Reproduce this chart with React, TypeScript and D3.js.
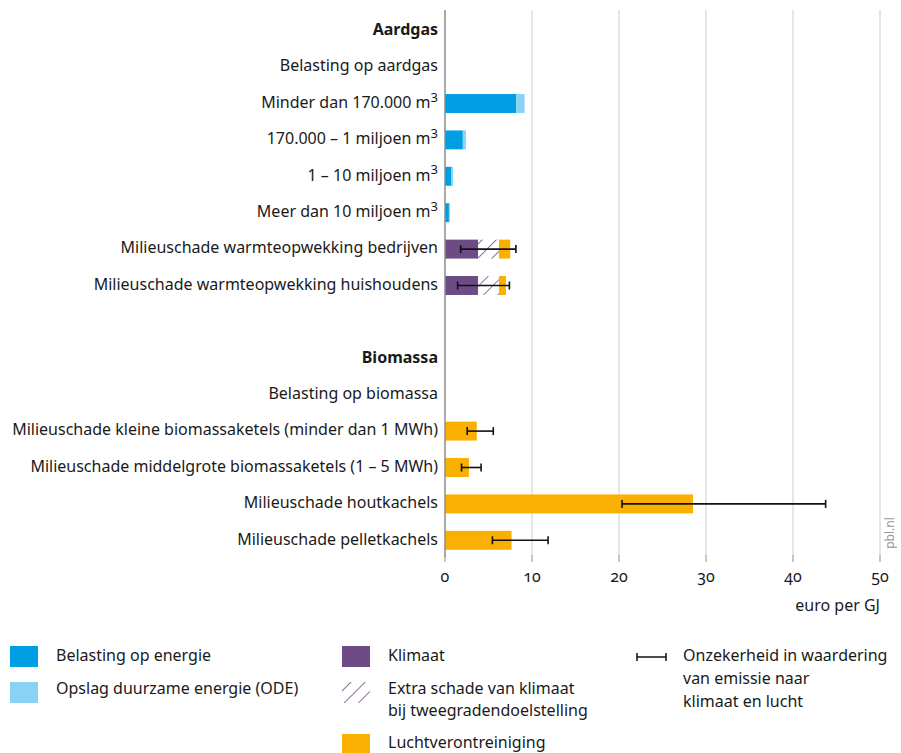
import React from 'react';
import * as d3 from 'd3';

const rows = [
  'Aardgas',
  'Belasting op aardgas',
  'Minder dan 170.000 m|3',
  '170.000 – 1 miljoen m|3',
  '1 – 10 miljoen m|3',
  'Meer dan 10 miljoen m|3',
  'Milieuschade warmteopwekking bedrijven',
  'Milieuschade warmteopwekking huishoudens',
  '',
  'Biomassa',
  'Belasting op biomassa',
  'Milieuschade kleine biomassaketels (minder dan 1 MWh)',
  'Milieuschade middelgrote biomassaketels (1 – 5 MWh)',
  'Milieuschade houtkachels',
  'Milieuschade pelletkachels',
];
const headers = ['Aardgas', 'Biomassa'];

const belasting = [0, 0, 8.2, 2.05, 0.7, 0.45, 0, 0, 0, 0, 0, 0, 0, 0, 0];
const ode = [0, 0, 0.95, 0.35, 0.22, 0.12, 0, 0, 0, 0, 0, 0, 0, 0, 0];
const klimaat = [0, 0, 0, 0, 0, 0, 3.8, 3.8, 0, 0, 0, 0, 0, 0, 0];
const extraKlimaat = [0, 0, 0, 0, 0, 0, 2.4, 2.4, 0, 0, 0, 0, 0, 0, 0];
const lucht = [0, 0, 0, 0, 0, 0, 1.3, 0.8, 0, 0, 0, 3.65, 2.75, 28.5, 7.65];
const errLow = [null, null, null, null, null, null, 1.8, 1.45, null, null, null, 2.55, 1.9, 20.35, 5.45];
const errHigh = [null, null, null, null, null, null, 8.15, 7.4, null, null, null, 5.55, 4.15, 43.75, 11.85];

const xTicks = [0, 10, 20, 30, 40, 50];

const keys = ['belasting', 'ode', 'klimaat', 'extra', 'lucht'];
const colors: Record<string, string> = {
  belasting: '#009fe3',
  ode: '#87d2f5',
  klimaat: '#6d4b85',
  extra: 'url(#hatch)',
  lucht: '#f9b000',
};

const font = '"Noto Sans", sans-serif';

function Label({ text, x, y, bold }: { text: string; x: number; y: number; bold?: boolean }) {
  const [main, sup] = text.split('|');
  return (
    <text x={x} y={y} textAnchor="end" dominantBaseline="middle" fontWeight={bold ? 700 : 400}>
      {main}
      {sup && (
        <tspan dy={-5} fontSize={13}>
          {sup}
        </tspan>
      )}
    </text>
  );
}

export default function App() {
  const width = 901;
  const height = 753;
  const x = d3.scaleLinear().domain([0, 50]).range([445, 880]);
  const y = d3.scaleBand().domain(rows.map((_, i) => String(i))).range([12.5, 558.5]).paddingInner(0.48).paddingOuter(0.24);

  const table = rows.map((_, i) => ({
    belasting: belasting[i],
    ode: ode[i],
    klimaat: klimaat[i],
    extra: extraKlimaat[i],
    lucht: lucht[i],
  }));
  const series = d3.stack<any>().keys(keys)(table);
  const bh = y.bandwidth();

  return (
    <svg width={width} height={height} style={{ position: 'absolute', left: 0, top: 0 }} fontFamily={font} fontSize={16} fill="#1a1a1a">
      <defs>
        <pattern id="hatch" patternUnits="userSpaceOnUse" width={10} height={10} patternTransform="rotate(45)">
          <rect width={10} height={10} fill="#fff" />
          <line x1={0} y1={0} x2={0} y2={10} stroke="#6d4b85" strokeWidth={1.6} />
        </pattern>
      </defs>

      {/* gridlines */}
      {xTicks.slice(1).map((t) => (
        <line key={t} x1={x(t)} x2={x(t)} y1={10} y2={555} stroke="#d6d6d6" strokeWidth={1.2} />
      ))}

      {/* bars */}
      {series.map((s) => (
        <g key={s.key}>
          {s.map((d, i) =>
            d[1] - d[0] > 0 ? (
              <rect
                key={i}
                x={x(d[0])}
                width={x(d[1]) - x(d[0])}
                y={y(String(i))!}
                height={bh}
                fill={colors[s.key]}
              />
            ) : null
          )}
        </g>
      ))}

      {/* error bars */}
      {rows.map((_, i) => {
        const lo = errLow[i];
        const hi = errHigh[i];
        if (lo == null || hi == null) return null;
        const cy = y(String(i))! + bh / 2;
        return (
          <g key={i} stroke="#111" strokeWidth={1.6}>
            <line x1={x(lo)} x2={x(hi)} y1={cy} y2={cy} />
            <line x1={x(lo)} x2={x(lo)} y1={cy - 4} y2={cy + 4} />
            <line x1={x(hi)} x2={x(hi)} y1={cy - 4} y2={cy + 4} />
          </g>
        );
      })}

      {/* axis line */}
      <line x1={x(0)} x2={x(0)} y1={10} y2={557} stroke="#8c8c8c" strokeWidth={1.5} />
      {xTicks.map((t) => (
        <g key={t}>
          <line x1={x(t)} x2={x(t)} y1={555} y2={562} stroke="#8c8c8c" strokeWidth={1} />
          <text x={x(t)} y={578} textAnchor="middle" dominantBaseline="middle" style={{ fontVariantNumeric: 'oldstyle-nums' }}>
            {t}
          </text>
        </g>
      ))}
      <text x={880} y={607} textAnchor="end" dominantBaseline="middle">
        euro per GJ
      </text>

      {/* row labels */}
      {rows.map((r, i) =>
        r ? <Label key={i} text={r} x={438} y={y(String(i))! + bh / 2} bold={headers.includes(r)} /> : null
      )}

      <text transform="translate(891,533) rotate(-90)" textAnchor="middle" dominantBaseline="middle" fontSize={12} fill="#999">
        pbl.nl
      </text>

      {/* legend */}
      <g>
        <rect x={10} y={646} width={28} height={21} fill={colors.belasting} />
        <text x={56} y={657} dominantBaseline="middle">Belasting op energie</text>
        <rect x={10} y={682} width={28} height={21} fill={colors.ode} />
        <text x={56} y={690} dominantBaseline="middle">Opslag duurzame energie (ODE)</text>

        <rect x={342} y={646} width={28} height={21} fill={colors.klimaat} />
        <text x={388} y={657} dominantBaseline="middle">Klimaat</text>
        <rect x={342} y={682} width={28} height={21} fill="url(#hatch)" />
        <text x={388} y={690} dominantBaseline="middle">Extra schade van klimaat</text>
        <text x={388} y={712} dominantBaseline="middle">bij tweegradendoelstelling</text>
        <rect x={342} y={734} width={28} height={21} fill={colors.lucht} />
        <text x={388} y={744} dominantBaseline="middle">Luchtverontreiniging</text>

        <g stroke="#111" strokeWidth={1.5}>
          <line x1={637} x2={666} y1={657} y2={657} />
          <line x1={637} x2={637} y1={653} y2={661} />
          <line x1={666} x2={666} y1={653} y2={661} />
        </g>
        <text x={683} y={657} dominantBaseline="middle">Onzekerheid in waardering</text>
        <text x={683} y={680} dominantBaseline="middle">van emissie naar</text>
        <text x={683} y={703} dominantBaseline="middle">klimaat en lucht</text>
      </g>
    </svg>
  );
}
